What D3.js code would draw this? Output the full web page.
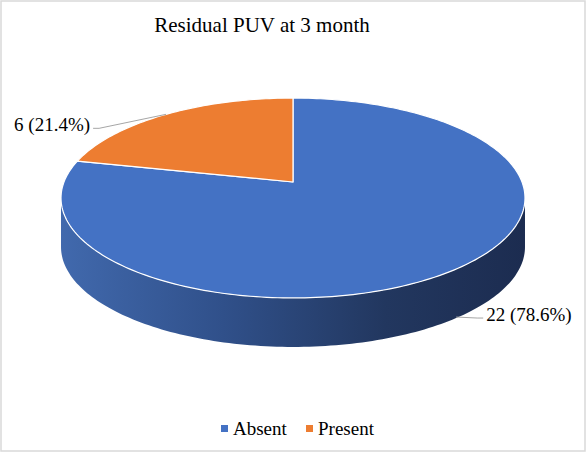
<!DOCTYPE html>
<html>
<head>
<meta charset="utf-8">
<script src="https://cdn.jsdelivr.net/npm/d3@7/dist/d3.min.js"></script>
<style>
  html, body { margin: 0; padding: 0; background: #fff; }
  svg { display: block; font-family: "Times New Roman", "Liberation Serif", serif; }
</style>
</head>
<body>
<div id="chart"></div>
<script>
// --- data ---
const categories = ["Absent", "Present"];
const counts = [22, 6];
const sliceColors = ["#4472C4", "#ED7D31"];
const chartTitle = "Residual PUV at 3 month";

// --- layout ---
const width = 587, height = 453;
const cx = 293, cy = 182;        // projected pie centre
const A = 229, B = 97.4, K = 0.16; // simple perspective for the tilted disc
const depth = 49;

const total = d3.sum(counts);
const pct = d3.format(".1%");
const pieData = d3.pie().sort(null).value(d => d)(counts);

// theta measured clockwise from 12 o'clock, r in [0,1]
function proj(theta, r, drop) {
  const u = r * Math.sin(theta), v = r * Math.cos(theta);
  const d = 1 + K * v;
  return [cx + A * u / d, cy - B * v / d + (drop || 0)];
}
function arcPoints(a0, a1, drop) {
  const n = Math.max(2, Math.ceil(Math.abs(a1 - a0) / 0.02));
  return d3.range(n + 1).map(i => proj(a0 + (a1 - a0) * i / n, 1, drop));
}

const svg = d3.select("#chart").append("svg").attr("width", width).attr("height", height);

// chart border
svg.append("rect").attr("x", 1).attr("y", 1).attr("width", width - 3).attr("height", height - 3)
  .attr("fill", "#fff").attr("stroke", "#d9d9d9").attr("stroke-width", 1.5);

// side wall gradient
const grad = svg.append("defs").append("linearGradient").attr("id", "wall")
  .attr("gradientUnits", "userSpaceOnUse")
  .attr("x1", cx - 232).attr("x2", cx + 232).attr("y1", 0).attr("y2", 0);
[["0", "#4169ad"], ["0.35", "#30508a"], ["0.7", "#22375f"], ["1", "#1c2c50"]]
  .forEach(([o, c]) => grad.append("stop").attr("offset", o).attr("stop-color", c));

// visible front wall: between horizontal extremes of the ellipse
const ta = Math.acos(-K), tb = 2 * Math.PI - ta;
const line = d3.line();
pieData.forEach((p, i) => {
  const a0 = Math.max(p.startAngle, ta), a1 = Math.min(p.endAngle, tb);
  if (a1 <= a0) return;
  const top = arcPoints(a0, a1, 0);
  const bot = arcPoints(a1, a0, depth);
  svg.append("path").attr("d", line(top.concat(bot)) + "Z")
    .attr("fill", i === 0 ? "url(#wall)" : d3.color(sliceColors[i]).darker(1.2));
});

// top faces
pieData.forEach((p, i) => {
  const pts = [proj(0, 0)].concat(arcPoints(p.startAngle, p.endAngle, 0));
  svg.append("path").attr("d", line(pts) + "Z")
    .attr("fill", sliceColors[i])
    .attr("stroke", "#fff").attr("stroke-width", 1.2).attr("stroke-linejoin", "round");
});

// data labels with leader lines
const labelOffsets = [
  { drop: depth - 1, dx: 27, dy: 1, anchor: "start", tx: 3, ty: 3 },
  { drop: 0, dx: -73, dy: 14, anchor: "end", tx: -3, ty: 3 }
];
pieData.forEach((p, i) => {
  const mid = (p.startAngle + p.endAngle) / 2;
  const o = labelOffsets[i];
  const m = proj(mid, 1, o.drop);
  const e = [m[0] + o.dx, m[1] + o.dy];
  const knee = [e[0] + (o.dx > 0 ? -6 : 6), e[1]];
  svg.append("path").attr("d", line([m, knee, e]))
    .attr("fill", "none").attr("stroke", "#a6a6a6").attr("stroke-width", 1);
  svg.append("text").attr("x", e[0] + o.tx).attr("y", e[1] + o.ty)
    .attr("text-anchor", o.anchor).attr("font-size", 19).attr("fill", "#000")
    .text(`${counts[i]} (${pct(counts[i] / total)})`);
});

// title
svg.append("text").attr("x", 262).attr("y", 32).attr("text-anchor", "middle")
  .attr("font-size", 21).attr("fill", "#000").text(chartTitle);

// legend
const legendX = [221, 306];
categories.forEach((c, i) => {
  const g = svg.append("g").attr("transform", `translate(${legendX[i]},425)`);
  g.append("rect").attr("width", 7).attr("height", 7).attr("fill", sliceColors[i]);
  g.append("text").attr("x", 12).attr("y", 10).attr("font-size", 19).attr("fill", "#000").text(c);
});
</script>
</body>
</html>
